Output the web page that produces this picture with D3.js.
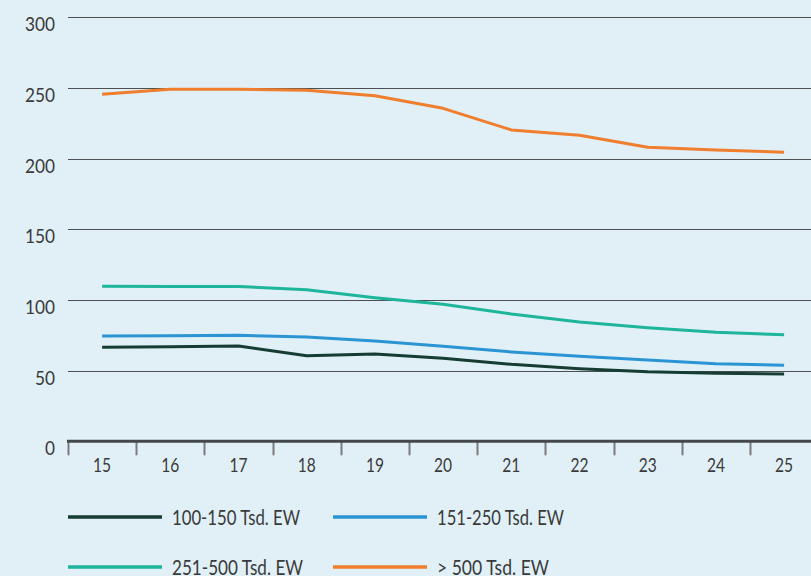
<!DOCTYPE html>
<html>
<head>
<meta charset="utf-8">
<script src="https://cdn.jsdelivr.net/npm/d3@7"></script>
<style>
  html, body { margin: 0; padding: 0; background: #e1f0f7; }
  svg { display: block; }
  text { font-family: Lato, "Open Sans", sans-serif; fill: #3a3a3a; }
</style>
</head>
<body>
<div id="chart"></div>
<script>
const years = ["15","16","17","18","19","20","21","22","23","24","25"];
const yTicks = [0, 50, 100, 150, 200, 250, 300];
const seriesNames = ["100-150 Tsd. EW", "151-250 Tsd. EW", "251-500 Tsd. EW", "> 500 Tsd. EW"];
const s100_150 = [66.5, 66.9, 67.4, 60.6, 61.8, 58.7, 54.5, 51.4, 49.2, 48.1, 47.6];
const s151_250 = [74.5, 74.7, 75.0, 73.8, 71.0, 67.2, 63.2, 60.1, 57.5, 54.9, 53.8];
const s251_500 = [109.7, 109.6, 109.6, 107.3, 101.6, 96.9, 90.1, 84.4, 80.4, 77.1, 75.4];
const s500plus = [245.6, 249.1, 249.1, 248.4, 244.5, 235.6, 220.3, 216.5, 208.0, 206.1, 204.5];
const colors = ["#153d32", "#2b95d4", "#1db59b", "#ef7e2e"];

const W = 811, H = 576;
const left = 68, plotRight = 811, bandEnd = 68 + 11 * 68.2;
const yTop = 17.3, yBottom = 441.3;

const svg = d3.select("#chart").append("svg").attr("width", W).attr("height", H);
svg.append("rect").attr("width", W).attr("height", H).attr("fill", "#e1f0f7");

const x = d3.scaleBand().domain(years).range([left, bandEnd]);
const y = d3.scaleLinear().domain([0, 300]).range([yBottom, yTop]);

// gridlines
svg.append("g").selectAll("line").data(yTicks.filter(d => d > 0)).join("line")
  .attr("x1", left).attr("x2", plotRight)
  .attr("y1", d => Math.round(y(d)) + 0.5).attr("y2", d => Math.round(y(d)) + 0.5)
  .attr("stroke", "#4d4f52").attr("stroke-width", 1);

// y axis labels
const yAxis = svg.append("g").attr("transform", `translate(${left},0)`)
  .call(d3.axisLeft(y).tickValues(yTicks).tickSize(0).tickPadding(13));
yAxis.select(".domain").remove();
yAxis.selectAll("text")
  .attr("dy", null).attr("y", 13.5)
  .style("font-size", "19.5px").style("font-family", "Lato, sans-serif")
  .attr("fill", "#3a3a3a")
  .attr("textLength", d => String(d).length === 1 ? 10 : (String(d).length === 2 ? 20 : 30))
  .attr("lengthAdjust", "spacingAndGlyphs");

// x axis
const xAxis = svg.append("g").attr("transform", `translate(0,${yBottom})`)
  .call(d3.axisBottom(x).tickSize(0).tickPadding(0));
xAxis.select(".domain").remove();
xAxis.selectAll("text")
  .attr("dy", null).attr("y", 30.5)
  .style("font-size", "19.5px").style("font-family", "Lato, sans-serif")
  .attr("fill", "#3a3a3a")
  .attr("textLength", d => d === "11" ? 15 : 18)
  .attr("lengthAdjust", "spacingAndGlyphs");

// tick marks at band edges
const edges = years.map(d => x(d)).concat([bandEnd]);
svg.append("g").selectAll("line").data(edges).join("line")
  .attr("x1", d => Math.round(d) + 0.5).attr("x2", d => Math.round(d) + 0.5)
  .attr("y1", yBottom).attr("y2", yBottom + 14)
  .attr("stroke", "#7a7d80").attr("stroke-width", 2);

// axis baseline
svg.append("line").attr("x1", left - 1).attr("x2", plotRight)
  .attr("y1", yBottom).attr("y2", yBottom)
  .attr("stroke", "#45484b").attr("stroke-width", 3);

// lines
const allSeries = [s100_150, s151_250, s251_500, s500plus];
const line = d3.line()
  .x((d, i) => x(years[i]) + x.bandwidth() / 2)
  .y(d => y(d));
allSeries.forEach((s, k) => {
  svg.append("path").datum(s)
    .attr("d", line)
    .attr("fill", "none")
    .attr("stroke", colors[k])
    .attr("stroke-width", 3)
    .attr("stroke-linejoin", "round");
});

// legend
const legendPos = [
  {lx: 68, ly: 517, tw: 128},
  {lx: 333, ly: 517, tw: 127},
  {lx: 68, ly: 567, tw: 131},
  {lx: 333, ly: 567, tw: 112}
];
seriesNames.forEach((name, k) => {
  const p = legendPos[k];
  svg.append("line")
    .attr("x1", p.lx).attr("x2", p.lx + 94)
    .attr("y1", p.ly).attr("y2", p.ly)
    .attr("stroke", colors[k]).attr("stroke-width", 3.5);
  svg.append("text")
    .attr("x", p.lx + 104).attr("y", p.ly + 7.5)
    .style("font-size", "20.5px")
    .attr("textLength", p.tw).attr("lengthAdjust", "spacingAndGlyphs")
    .text(name);
});
</script>
</body>
</html>
